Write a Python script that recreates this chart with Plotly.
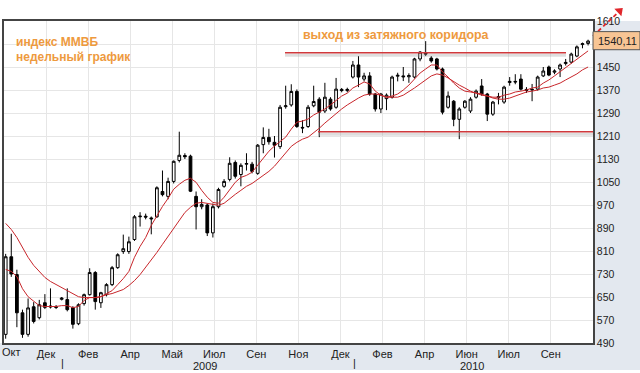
import plotly.graph_objects as go

# ---- data (weekly MICEX candles) ----
opens = [520, 790, 728, 595, 520, 616, 578, 630, 615, 616, 642, 641, 613, 557, 627, 658, 735, 630, 658, 693,
         752, 808, 808, 850, 929, 931, 925, 929, 1017, 1000, 1052, 1125, 1142, 1140, 1000, 964, 970, 873, 964, 1035,
         1059, 1118, 1076, 1112, 1112, 1080, 1180, 1205, 1188, 1173, 1312, 1318, 1365, 1240, 1243, 1315, 1338, 1297, 1338, 1310,
         1372, 1368, 1415, 1457, 1408, 1419, 1356, 1304, 1340, 1345, 1418, 1419, 1416, 1415, 1478, 1498, 1481, 1478, 1443, 1310,
         1331, 1268, 1310, 1297, 1345, 1384, 1356, 1286, 1343, 1328, 1396, 1400, 1408, 1372, 1370, 1373, 1419, 1450, 1432, 1443,
         1462, 1467, 1488, 1528, 1532]
highs = [800, 870, 745, 606, 645, 632, 640, 660, 680, 622, 650, 680, 618, 628, 662, 750, 740, 668, 698, 758,
         802, 867, 860, 935, 945, 940, 930, 1035, 1090, 1065, 1125, 1225, 1150, 1145, 1017, 990, 975, 975, 1030, 1060,
         1136, 1125, 1115, 1150, 1120, 1182, 1240, 1235, 1210, 1318, 1385, 1390, 1372, 1265, 1318, 1385, 1345, 1395, 1345, 1412,
         1377, 1378, 1471, 1488, 1430, 1432, 1360, 1360, 1358, 1420, 1430, 1450, 1428, 1482, 1505, 1540, 1488, 1482, 1448, 1365,
         1335, 1310, 1335, 1345, 1372, 1408, 1360, 1332, 1360, 1385, 1415, 1425, 1425, 1380, 1391, 1420, 1450, 1455, 1442, 1462,
         1478, 1500, 1525, 1535, 1545]
lows = [505, 720, 545, 508, 512, 558, 572, 608, 610, 608, 638, 600, 540, 552, 620, 655, 606, 612, 652, 688,
        748, 800, 800, 845, 895, 920, 868, 925, 1000, 990, 1045, 1118, 1130, 1015, 885, 955, 862, 857, 958, 1030,
        1052, 1062, 1035, 1090, 1080, 1075, 1150, 1180, 1135, 1165, 1305, 1312, 1238, 1220, 1238, 1310, 1206, 1290, 1298, 1305,
        1362, 1362, 1410, 1380, 1400, 1350, 1295, 1290, 1300, 1340, 1400, 1401, 1395, 1410, 1470, 1488, 1465, 1438, 1285, 1305,
        1244, 1199, 1305, 1290, 1340, 1350, 1262, 1280, 1320, 1322, 1385, 1390, 1368, 1360, 1331, 1368, 1415, 1418, 1425, 1415,
        1455, 1462, 1484, 1515, 1525]
closes = [790, 730, 595, 520, 612, 565, 623, 614, 618, 614, 646, 606, 555, 623, 658, 735, 634, 665, 693, 752,
          797, 818, 842, 929, 931, 928, 922, 1030, 1006, 1052, 1122, 1143, 1138, 1018, 964, 972, 873, 964, 1024, 1052,
          1115, 1070, 1108, 1114, 1087, 1178, 1205, 1190, 1178, 1310, 1315, 1365, 1243, 1238, 1310, 1330, 1293, 1345, 1304, 1373,
          1368, 1372, 1457, 1415, 1419, 1356, 1304, 1356, 1352, 1415, 1421, 1416, 1420, 1478, 1502, 1495, 1471, 1443, 1293, 1349,
          1268, 1304, 1331, 1338, 1366, 1356, 1286, 1328, 1347, 1380, 1400, 1398, 1373, 1369, 1372, 1415, 1436, 1422, 1436, 1457,
          1466, 1495, 1520, 1531, 1540.11]
ma_fast = [746, 739, 721, 679, 651, 634, 620, 617, 617, 617, 620, 620, 613, 617, 638, 648, 648, 651, 662, 672,
           693, 714, 739, 788, 826, 857, 899, 934, 965, 993, 1025, 1042, 1056, 1063, 1049, 1021, 997, 979, 976, 997,
           1025, 1049, 1066, 1073, 1084, 1108, 1133, 1157, 1175, 1192, 1206, 1234, 1258, 1262, 1269, 1283, 1293, 1304, 1318, 1335,
           1349, 1359, 1377, 1387, 1398, 1391, 1366, 1352, 1345, 1349, 1356, 1370, 1387, 1408, 1429, 1443, 1457, 1457, 1433, 1415,
           1394, 1377, 1366, 1363, 1359, 1356, 1349, 1345, 1345, 1352, 1356, 1363, 1366, 1370, 1377, 1380, 1394, 1405, 1419, 1433,
           1450, 1464, 1478, 1492, 1506]
ma_slow = [906, 885, 857, 822, 788, 760, 739, 718, 704, 693, 683, 672, 662, 651, 648, 648, 648, 651, 658, 662,
           669, 676, 690, 707, 728, 753, 777, 805, 833, 861, 892, 920, 944, 962, 976, 979, 976, 972, 969, 976,
           993, 1007, 1021, 1035, 1045, 1059, 1070, 1087, 1105, 1129, 1150, 1174, 1188, 1199, 1206, 1220, 1237, 1255, 1272, 1290,
           1304, 1318, 1331, 1342, 1352, 1356, 1356, 1352, 1345, 1345, 1345, 1352, 1363, 1377, 1391, 1405, 1419, 1426, 1422, 1412,
           1398, 1387, 1377, 1366, 1359, 1352, 1349, 1342, 1338, 1338, 1342, 1349, 1356, 1363, 1366, 1370, 1377, 1380, 1387, 1394,
           1405, 1415, 1426, 1440, 1450]
month_labels = ["Окт", "Дек", "Фев", "Апр", "Май", "Июл", "Сен", "Ноя", "Дек", "Фев", "Апр", "Июн", "Июл", "Сен"]
year_labels = ["2009", "2010"]
y_ticks = list(range(490, 1611, 80))
corridor_top = 1500
corridor_bottom = 1225
last_price = closes[-1]

n = len(closes)
xs = list(range(n))

# ---- layout helpers (pixel geometry of the reference) ----
W, H = 640, 373
PL, PR, PT, PB = 4, 593, 21, 343          # plot-area edges in pixels
x0_idx, px_per_week = -0.3, 5.6
x_end = x0_idx + (PR - PL) / px_per_week
y_lo, y_hi = 490, 1610


def px_to_idx(px):
    return x0_idx + (px - PL) / px_per_week


def px_to_paper_x(px):
    return px / W


def py_to_paper_y(py):
    return (H - py) / H


tickvals = [x0_idx + 7.51 * k for k in range(len(month_labels))]
# first month label sits on the left border -> drawn as an annotation kept inside the page
x_ticktext = [""] + month_labels[1:]
# the tick under the last-price box is hidden by the box
y_ticktext = ["" if abs(v - last_price) < 25 else str(v) for v in y_ticks]

red = "#C8262B"
orange = "#EE9A3E"
panel = "#E3E8EF"
txt = "#222222"
arrow_red = "#E0262B"

fig = go.Figure()

fig.add_trace(go.Scatter(x=xs, y=ma_slow, mode="lines", line=dict(color=red, width=1), hoverinfo="skip"))
fig.add_trace(go.Scatter(x=xs, y=ma_fast, mode="lines", line=dict(color=red, width=1), hoverinfo="skip"))
fig.add_trace(go.Candlestick(
    x=xs, open=opens, high=highs, low=lows, close=closes,
    increasing=dict(fillcolor="white", line=dict(color="black", width=1)),
    decreasing=dict(fillcolor="black", line=dict(color="black", width=1)),
    whiskerwidth=0,
))

# dashed red arrow on a full-page pixel overlay (x2/y2) so it can leave the plot area
arrow_px = [593, 617]
arrow_py = [36, 13.5]
fig.add_trace(go.Scatter(x=arrow_px, y=arrow_py, xaxis="x2", yaxis="y2", mode="lines", hoverinfo="skip",
                         line=dict(color=arrow_red, width=1.8, dash="4px,3px")))
fig.add_trace(go.Scatter(x=[619.5], y=[11], xaxis="x2", yaxis="y2", mode="markers", hoverinfo="skip",
                         marker=dict(symbol="triangle-up", size=9, angle=47, color=arrow_red, line=dict(width=0))))

shapes = []
# grey-blue panels (right axis + bottom strip)
shapes.append(dict(type="rect", xref="paper", yref="paper", x0=px_to_paper_x(PR), x1=1,
                   y0=py_to_paper_y(370), y1=py_to_paper_y(PT), fillcolor=panel, line=dict(width=0),
                   layer="below"))
shapes.append(dict(type="rect", xref="paper", yref="paper", x0=0, x1=1,
                   y0=py_to_paper_y(370), y1=py_to_paper_y(PB), fillcolor=panel, line=dict(width=0),
                   layer="below"))
# corridor lines with shadow
for lvl, xa, xb in [(corridor_top, px_to_idx(285), px_to_idx(566)),
                    (corridor_bottom, px_to_idx(318), x_end)]:
    shapes.append(dict(type="line", xref="x", yref="y", x0=xa, x1=xb, y0=lvl - 9, y1=lvl - 9,
                       line=dict(color="rgba(160,160,160,0.35)", width=3)))
    shapes.append(dict(type="line", xref="x", yref="y", x0=xa, x1=xb, y0=lvl, y1=lvl,
                       line=dict(color="#D0393C", width=1.5)))
# last price box
shapes.append(dict(type="rect", xref="paper", yref="y", x0=px_to_paper_x(PR), x1=1,
                   y0=last_price - 30, y1=last_price + 33, fillcolor="#F8C594",
                   line=dict(color="#555555", width=1)))

annotations = [
    dict(text="<b>индекс ММВБ</b>", xref="paper", yref="paper", x=px_to_paper_x(14), y=py_to_paper_y(42),
         xanchor="left", yanchor="middle", showarrow=False, font=dict(size=12, color=orange, family="Arial")),
    dict(text="<b>недельный график</b>", xref="paper", yref="paper", x=px_to_paper_x(14), y=py_to_paper_y(57),
         xanchor="left", yanchor="middle", showarrow=False, font=dict(size=12, color=orange, family="Arial")),
    dict(text="<b>выход из затяжного коридора</b>", xref="paper", yref="paper", x=px_to_paper_x(301),
         y=py_to_paper_y(35), xanchor="left", yanchor="middle", showarrow=False,
         font=dict(size=12.4, color=orange, family="Arial")),
    dict(text=f"{last_price:.2f}".replace(".", ","), xref="paper", yref="y", x=px_to_paper_x(596), y=last_price,
         xanchor="left", yanchor="middle", showarrow=False, font=dict(size=11, color=txt, family="Arial")),
    dict(text=month_labels[0], xref="paper", yref="paper", x=0, y=py_to_paper_y(352),
         xanchor="left", yanchor="middle", showarrow=False, font=dict(size=11, color=txt, family="Arial")),
]
for t, px in zip(year_labels, [205, 472]):
    annotations.append(dict(text=t, xref="x", yref="paper", x=px_to_idx(px), y=py_to_paper_y(366),
                            xanchor="center", yanchor="middle", showarrow=False,
                            font=dict(size=11, color=txt, family="Arial")))
for px in [62, 354]:
    annotations.append(dict(text="|", xref="x", yref="paper", x=px_to_idx(px), y=py_to_paper_y(363),
                            xanchor="center", yanchor="middle", showarrow=False,
                            font=dict(size=11, color=txt, family="Arial")))

fig.update_layout(
    width=W, height=H,
    margin=dict(l=0, r=0, t=0, b=0, pad=0, autoexpand=False),
    paper_bgcolor="white", plot_bgcolor="rgba(0,0,0,0)",
    showlegend=False,
    shapes=shapes, annotations=annotations,
    font=dict(family="Arial", size=11, color=txt),
    xaxis=dict(domain=[px_to_paper_x(PL), px_to_paper_x(PR)], anchor="y", automargin=False,
               range=[x0_idx, x_end], tickvals=tickvals, ticktext=x_ticktext, showgrid=True,
               gridcolor="#E6E6E6", gridwidth=1, zeroline=False, showline=True, linecolor="#444444",
               linewidth=1.5, mirror=True, ticks="", rangeslider=dict(visible=False),
               tickfont=dict(size=11, color=txt)),
    yaxis=dict(domain=[py_to_paper_y(PB), py_to_paper_y(PT)], anchor="x", automargin=False,
               range=[y_lo, y_hi], tickvals=y_ticks, ticktext=y_ticktext, side="right", showgrid=True,
               gridcolor="#E6E6E6", gridwidth=1, zeroline=False, showline=True, linecolor="#444444",
               linewidth=1.5, mirror=True, ticks="", tickfont=dict(size=10.5, color=txt)),
    xaxis2=dict(domain=[0, 1], anchor="y2", range=[0, W], visible=False, fixedrange=True, automargin=False),
    yaxis2=dict(domain=[0, 1], anchor="x2", range=[H, 0], visible=False, fixedrange=True, automargin=False),
)

fig.write_html("out.html", config={"displayModeBar": False},
               post_script="document.body.style.margin='0';document.body.style.padding='0';document.body.style.overflow='hidden';")
